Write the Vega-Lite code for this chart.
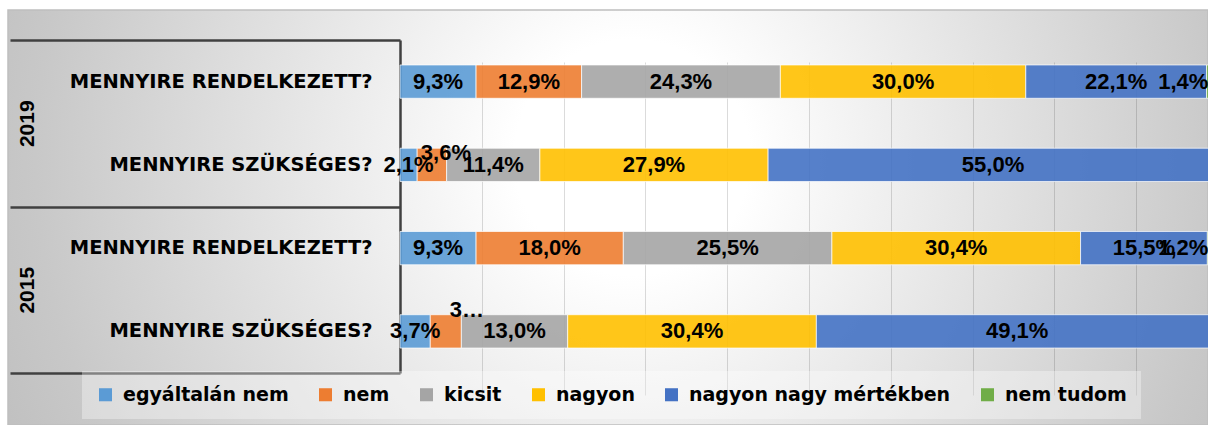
{
  "$schema": "https://vega.github.io/schema/vega-lite/v6.json",
  "width": 1200,
  "height": 415,
  "autosize": {"type": "none"},
  "padding": {"left": 8, "top": 10, "right": 0, "bottom": 0},
  "background": "#FFFFFF",
  "title": {
    "text": "n = 373",
    "orient": "top",
    "anchor": "middle",
    "frame": "group",
    "offset": 6,
    "dx": 98,
    "baseline": "alphabetic",
    "font": "Liberation Sans",
    "fontSize": 24,
    "fontWeight": "bold",
    "color": "#000000"
  },
  "config": {
    "locale": {
      "number": {"decimal": ",", "thousands": " ", "grouping": [3], "currency": ["", " Ft"]}
    },
    "view": {
      "fill": {
        "gradient": "radial",
        "x1": 0.52, "y1": 0.45, "r1": 0,
        "x2": 0.52, "y2": 0.45, "r2": 0.7,
        "stops": [
          {"offset": 0, "color": "#FFFFFF"},
          {"offset": 0.14, "color": "#FFFFFF"},
          {"offset": 0.71, "color": "#C8C8C8"},
          {"offset": 1, "color": "#B2B2B2"}
        ]
      },
      "stroke": "#BFBFBF",
      "strokeWidth": 1.5
    },
    "legend": {
      "orient": "none",
      "legendX": 74,
      "legendY": 361,
      "direction": "horizontal",
      "symbolType": "square",
      "symbolSize": 170,
      "symbolStrokeWidth": 0,
      "labelFont": "DejaVu Sans",
      "labelFontSize": 19,
      "labelFontWeight": "bold",
      "labelColor": "#000000",
      "labelOffset": 8,
      "columnPadding": 27,
      "padding": 14,
      "fillColor": "rgba(255,255,255,0.35)",
      "labelLimit": 400
    }
  },
  "data": {
    "values": [
      {"row": "2019|MENNYIRE RENDELKEZETT?", "year": "2019", "cat": "egyáltalán nem", "k": 1, "v": 0.093},
      {"row": "2019|MENNYIRE RENDELKEZETT?", "year": "2019", "cat": "nem", "k": 2, "v": 0.129},
      {"row": "2019|MENNYIRE RENDELKEZETT?", "year": "2019", "cat": "kicsit", "k": 3, "v": 0.243},
      {"row": "2019|MENNYIRE RENDELKEZETT?", "year": "2019", "cat": "nagyon", "k": 4, "v": 0.300},
      {"row": "2019|MENNYIRE RENDELKEZETT?", "year": "2019", "cat": "nagyon nagy mértékben", "k": 5, "v": 0.221},
      {"row": "2019|MENNYIRE RENDELKEZETT?", "year": "2019", "cat": "nem tudom", "k": 6, "v": 0.014},
      {"row": "2019|MENNYIRE SZÜKSÉGES?", "year": "2019", "cat": "egyáltalán nem", "k": 1, "v": 0.021},
      {"row": "2019|MENNYIRE SZÜKSÉGES?", "year": "2019", "cat": "nem", "k": 2, "v": 0.036},
      {"row": "2019|MENNYIRE SZÜKSÉGES?", "year": "2019", "cat": "kicsit", "k": 3, "v": 0.114},
      {"row": "2019|MENNYIRE SZÜKSÉGES?", "year": "2019", "cat": "nagyon", "k": 4, "v": 0.279},
      {"row": "2019|MENNYIRE SZÜKSÉGES?", "year": "2019", "cat": "nagyon nagy mértékben", "k": 5, "v": 0.550},
      {"row": "2015|MENNYIRE RENDELKEZETT?", "year": "2015", "cat": "egyáltalán nem", "k": 1, "v": 0.093},
      {"row": "2015|MENNYIRE RENDELKEZETT?", "year": "2015", "cat": "nem", "k": 2, "v": 0.180},
      {"row": "2015|MENNYIRE RENDELKEZETT?", "year": "2015", "cat": "kicsit", "k": 3, "v": 0.255},
      {"row": "2015|MENNYIRE RENDELKEZETT?", "year": "2015", "cat": "nagyon", "k": 4, "v": 0.304},
      {"row": "2015|MENNYIRE RENDELKEZETT?", "year": "2015", "cat": "nagyon nagy mértékben", "k": 5, "v": 0.155},
      {"row": "2015|MENNYIRE RENDELKEZETT?", "year": "2015", "cat": "nem tudom", "k": 6, "v": 0.012},
      {"row": "2015|MENNYIRE SZÜKSÉGES?", "year": "2015", "cat": "egyáltalán nem", "k": 1, "v": 0.037},
      {"row": "2015|MENNYIRE SZÜKSÉGES?", "year": "2015", "cat": "nem", "k": 2, "v": 0.038},
      {"row": "2015|MENNYIRE SZÜKSÉGES?", "year": "2015", "cat": "kicsit", "k": 3, "v": 0.130},
      {"row": "2015|MENNYIRE SZÜKSÉGES?", "year": "2015", "cat": "nagyon", "k": 4, "v": 0.304},
      {"row": "2015|MENNYIRE SZÜKSÉGES?", "year": "2015", "cat": "nagyon nagy mértékben", "k": 5, "v": 0.491}
    ]
  },
  "layer": [
    {
      "layer": [
        {
          "mark": {"type": "bar", "clip": true, "fillOpacity": 0.9, "stroke": "#FFFFFF", "strokeWidth": 1, "strokeOpacity": 0.7},
          "encoding": {
            "y": {
              "field": "row", "type": "nominal",
              "scale": {
                "domain": ["2019|MENNYIRE RENDELKEZETT?", "2019|MENNYIRE SZÜKSÉGES?", "2015|MENNYIRE RENDELKEZETT?", "2015|MENNYIRE SZÜKSÉGES?"],
                "range": [30, 363],
                "paddingInner": 0.6,
                "paddingOuter": 0.3
              },
              "axis": {
                "orient": "left", "offset": -392, "title": null,
                "domain": true, "domainColor": "#404040", "domainWidth": 2.5,
                "ticks": false, "tickSize": 0, "grid": false,
                "labelPadding": 28, "labelFont": "DejaVu Sans", "labelFontSize": 19.5,
                "labelFontWeight": "bold", "labelColor": "#000000", "labelLimit": 500,
                "labelExpr": "split(datum.label, '|')[1]"
              }
            },
            "x": {
              "field": "v", "type": "quantitative", "stack": "zero",
              "scale": {"domain": [0, 1], "range": [392, 1210], "nice": false, "zero": true},
              "axis": {
                "title": null, "grid": true, "domain": false, "ticks": false, "labels": false,
                "values": [0.1, 0.2, 0.3, 0.4, 0.5, 0.6, 0.7, 0.8, 0.9],
                "gridColor": "#000000", "gridOpacity": 0.14, "gridWidth": 1
              }
            },
            "color": {
              "field": "cat", "type": "nominal",
              "scale": {
                "domain": ["egyáltalán nem", "nem", "kicsit", "nagyon", "nagyon nagy mértékben", "nem tudom"],
                "range": ["#5B9BD5", "#ED7D31", "#A5A5A5", "#FFC000", "#4472C4", "#70AD47"]
              },
              "legend": {"title": null}
            },
            "order": {"field": "k", "type": "quantitative"}
          }
        },
        {
          "mark": {"type": "text", "clip": true, "font": "Liberation Sans", "fontSize": 22, "fontWeight": "bold", "color": "#000000", "baseline": "middle", "align": "center"},
          "encoding": {
            "y": {"field": "row", "type": "nominal"},
            "x": {"field": "v", "type": "quantitative", "stack": "zero", "bandPosition": 0.5},
            "detail": {"field": "cat"},
            "order": {"field": "k", "type": "quantitative"},
            "text": {"field": "v", "type": "quantitative", "format": ".1%"},
            "opacity": {
              "condition": {"test": "datum.cat !== 'nem tudom' && !(datum.cat === 'nem' && datum.row === '2019|MENNYIRE SZÜKSÉGES?') && !(datum.cat === 'nem' && datum.row === '2015|MENNYIRE SZÜKSÉGES?')", "value": 1},
              "value": 0
            }
          }
        },
        {
          "mark": {"type": "text", "clip": true, "dx": -29, "font": "Liberation Sans", "fontSize": 22, "fontWeight": "bold", "color": "#000000", "baseline": "middle", "align": "center"},
          "encoding": {
            "y": {"field": "row", "type": "nominal"},
            "x": {"field": "v", "type": "quantitative", "stack": "zero", "bandPosition": 0.5},
            "detail": {"field": "cat"},
            "order": {"field": "k", "type": "quantitative"},
            "text": {"field": "v", "type": "quantitative", "format": ".1%"},
            "opacity": {"condition": {"test": "datum.cat === 'nem tudom'", "value": 1}, "value": 0}
          }
        },
        {
          "mark": {"type": "text", "clip": true, "dx": 14, "dy": -12, "font": "Liberation Sans", "fontSize": 22, "fontWeight": "bold", "color": "#000000", "baseline": "middle", "align": "center"},
          "encoding": {
            "y": {"field": "row", "type": "nominal"},
            "x": {"field": "v", "type": "quantitative", "stack": "zero", "bandPosition": 0.5},
            "detail": {"field": "cat"},
            "order": {"field": "k", "type": "quantitative"},
            "text": {"field": "v", "type": "quantitative", "format": ".1%"},
            "opacity": {"condition": {"test": "datum.cat === 'nem' && datum.row === '2019|MENNYIRE SZÜKSÉGES?'", "value": 1}, "value": 0}
          }
        },
        {
          "mark": {"type": "text", "clip": true, "dx": 21, "dy": -21, "limit": 36, "font": "Liberation Sans", "fontSize": 22, "fontWeight": "bold", "color": "#000000", "baseline": "middle", "align": "center"},
          "encoding": {
            "y": {"field": "row", "type": "nominal"},
            "x": {"field": "v", "type": "quantitative", "stack": "zero", "bandPosition": 0.5},
            "detail": {"field": "cat"},
            "order": {"field": "k", "type": "quantitative"},
            "text": {"field": "v", "type": "quantitative", "format": ".1%"},
            "opacity": {"condition": {"test": "datum.cat === 'nem' && datum.row === '2015|MENNYIRE SZÜKSÉGES?'", "value": 1}, "value": 0}
          }
        }
      ]
    },
    {
      "mark": {"type": "point", "opacity": 0},
      "encoding": {
        "y": {
          "field": "year", "type": "nominal",
          "scale": {"domain": ["2019", "2015"], "range": [30, 363], "paddingInner": 0, "paddingOuter": 0},
          "axis": {
            "orient": "left", "offset": -392, "title": null,
            "domain": false, "grid": false,
            "ticks": true, "tickBand": "extent", "tickSize": 390, "tickColor": "#404040", "tickWidth": 2.5,
            "labelAngle": -90, "labelAlign": "center", "labelBaseline": "middle", "labelPadding": -17,
            "labelFont": "Liberation Sans", "labelFontSize": 21, "labelFontWeight": "bold", "labelColor": "#000000"
          }
        }
      }
    }
  ],
  "resolve": {"scale": {"y": "independent"}, "axis": {"y": "independent"}}
}
